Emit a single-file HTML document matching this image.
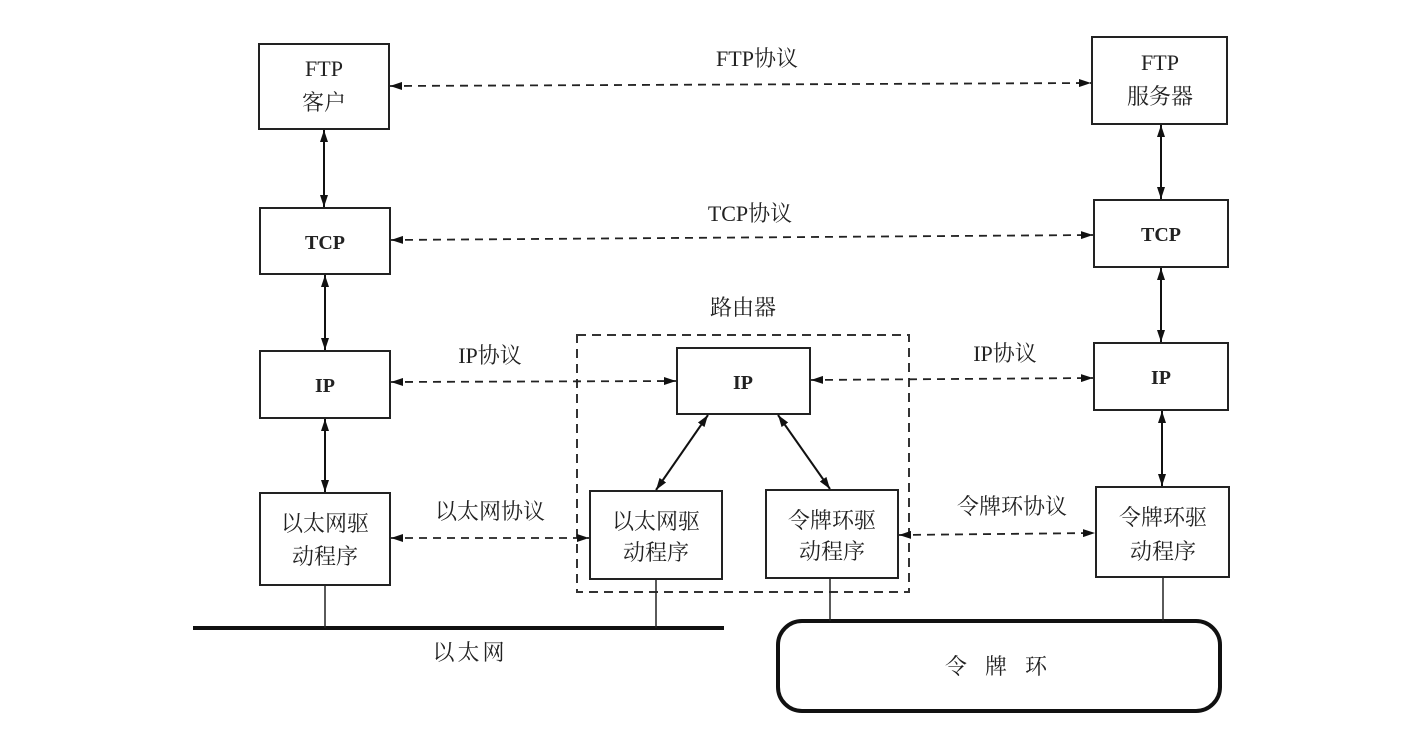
<!DOCTYPE html>
<html><head><meta charset="utf-8"><style>
html,body{margin:0;padding:0;background:#fff;}
svg{display:block;}
text{font-family:"Liberation Serif","Noto Serif CJK SC","Noto Sans CJK SC",serif;fill:#222;}
</style></head><body>
<svg width="1406" height="736" viewBox="0 0 1406 736" xmlns="http://www.w3.org/2000/svg">
<defs>
<marker id="a" viewBox="0 0 12 8" refX="12" refY="4" markerWidth="12" markerHeight="8" markerUnits="userSpaceOnUse" orient="auto-start-reverse">
<path d="M0,0 L12,4 L0,8 Z" fill="#111"/></marker>
</defs>
<g fill="#fff" stroke="#222" stroke-width="2">
<rect x="259" y="44" width="130" height="85"/>
<rect x="260" y="208" width="130" height="66"/>
<rect x="260" y="351" width="130" height="67"/>
<rect x="260" y="493" width="130" height="92"/>
<rect x="1092" y="37" width="135" height="87"/>
<rect x="1094" y="200" width="134" height="67"/>
<rect x="1094" y="343" width="134" height="67"/>
<rect x="1096" y="487" width="133" height="90"/>
<rect x="677" y="348" width="133" height="66"/>
<rect x="590" y="491" width="132" height="88"/>
<rect x="766" y="490" width="132" height="88"/>
</g>
<rect x="577" y="335" width="332" height="257" fill="none" stroke="#333" stroke-width="2" stroke-dasharray="9,6"/>
<line x1="193" y1="628" x2="724" y2="628" stroke="#111" stroke-width="4"/>
<rect x="778" y="621" width="442" height="90" rx="24" fill="none" stroke="#111" stroke-width="4"/>
<g stroke="#222" stroke-width="1.5">
<line x1="325" y1="585" x2="325" y2="628"/>
<line x1="656" y1="579" x2="656" y2="628"/>
<line x1="830" y1="578" x2="830" y2="621"/>
<line x1="1163" y1="577" x2="1163" y2="621"/>
</g>
<g stroke="#111" stroke-width="2" marker-start="url(#a)" marker-end="url(#a)">
<line x1="324" y1="130" x2="324" y2="207"/>
<line x1="325" y1="275" x2="325" y2="350"/>
<line x1="325" y1="419" x2="325" y2="492"/>
<line x1="1161" y1="125" x2="1161" y2="199"/>
<line x1="1161" y1="268" x2="1161" y2="342"/>
<line x1="1162" y1="411" x2="1162" y2="486"/>
<line x1="708" y1="415" x2="656" y2="490"/>
<line x1="778" y1="415" x2="830" y2="489"/>
</g>
<g stroke="#222" stroke-width="1.8" stroke-dasharray="8,6" marker-start="url(#a)" marker-end="url(#a)">
<line x1="390" y1="86" x2="1091" y2="83"/>
<line x1="391" y1="240" x2="1093" y2="235"/>
<line x1="391" y1="382" x2="676" y2="381"/>
<line x1="811" y1="380" x2="1093" y2="378"/>
<line x1="391" y1="538" x2="589" y2="538"/>
<line x1="899" y1="535" x2="1095" y2="533"/>
</g>
<g font-size="22" text-anchor="middle">
<text x="324" y="76">FTP</text><text x="324" y="110">客户</text>
<text x="1160" y="70">FTP</text><text x="1160" y="104">服务器</text>
<text x="325" y="249" font-weight="bold" font-size="20">TCP</text>
<text x="1161" y="241" font-weight="bold" font-size="20">TCP</text>
<text x="325" y="392" font-weight="bold" font-size="20">IP</text>
<text x="1161" y="384" font-weight="bold" font-size="20">IP</text>
<text x="743" y="389" font-weight="bold" font-size="20">IP</text>
<text x="325" y="531">以太网驱</text><text x="325" y="564">动程序</text>
<text x="656" y="529">以太网驱</text><text x="656" y="560">动程序</text>
<text x="832" y="528">令牌环驱</text><text x="832" y="559">动程序</text>
<text x="1163" y="525">令牌环驱</text><text x="1163" y="559">动程序</text>
<text x="757" y="66">FTP协议</text>
<text x="750" y="221">TCP协议</text>
<text x="490" y="363">IP协议</text>
<text x="1005" y="361">IP协议</text>
<text x="490" y="519">以太网协议</text>
<text x="1012" y="514">令牌环协议</text>
<text x="743" y="315">路由器</text>
<text x="470" y="660" letter-spacing="3">以太网</text>
<text x="1005" y="674" letter-spacing="18">令牌环</text>
</g>
</svg>
</body></html>
